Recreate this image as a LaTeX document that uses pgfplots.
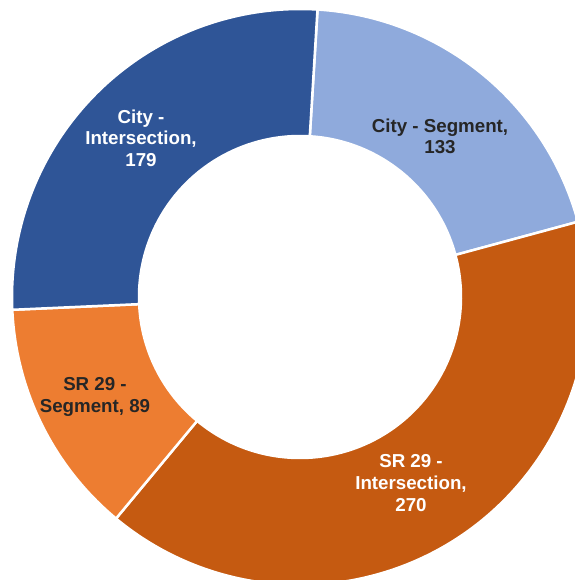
\documentclass[border=0pt]{standalone}
\usepackage{pgfplots}
\pgfplotsset{compat=1.18}
\usepackage{pgfplotstable}
\usepackage{fontspec}
\setmainfont{Liberation Sans}
\definecolor{cityint}{HTML}{2F5597}
\definecolor{cityseg}{HTML}{8FAADC}
\definecolor{srint}{HTML}{C55A11}
\definecolor{srseg}{HTML}{ED7D31}
\definecolor{darktext}{HTML}{262626}
% clockwise from the top
\pgfplotstableread{
name value
CitySegment 133
SRIntersection 270
SRSegment 89
CityIntersection 179
}\donutdata
\begin{document}
\begin{tikzpicture}
\pgfplotstablegetelem{0}{value}\of\donutdata \let\vA\pgfplotsretval
\pgfplotstablegetelem{1}{value}\of\donutdata \let\vB\pgfplotsretval
\pgfplotstablegetelem{2}{value}\of\donutdata \let\vC\pgfplotsretval
\pgfplotstablegetelem{3}{value}\of\donutdata \let\vD\pgfplotsretval
\pgfmathsetmacro\tot{\vA+\vB+\vC+\vD}
\pgfmathsetmacro\aO{86.5}
\pgfmathsetmacro\aI{\aO-360*(\vA/\tot)}
\pgfmathsetmacro\aII{\aI-360*(\vB/\tot)}
\pgfmathsetmacro\aIII{\aII-360*(\vC/\tot)}
\pgfmathsetmacro\aIV{\aIII-360*(\vD/\tot)}
\def\Ro{288bp}\def\Ri{161bp}\def\Rd{127bp}
\begin{axis}[x=1bp,y=1bp,xmin=0,xmax=575,ymin=0,ymax=580,
  hide axis,clip=true,disabledatascaling,scale only axis]
\filldraw[fill=cityseg,draw=white,line width=2.5bp] (axis cs:300,283) ++(\aO:\Ro) arc[start angle=\aO,end angle=\aI,radius=\Ro] -- ++(\aI:-\Rd) arc[start angle=\aI,end angle=\aO,radius=\Ri] -- cycle;
\filldraw[fill=srint,draw=white,line width=2.5bp] (axis cs:300,283) ++(\aI:\Ro) arc[start angle=\aI,end angle=\aII,radius=\Ro] -- ++(\aII:-\Rd) arc[start angle=\aII,end angle=\aI,radius=\Ri] -- cycle;
\filldraw[fill=srseg,draw=white,line width=2.5bp] (axis cs:300,283) ++(\aII:\Ro) arc[start angle=\aII,end angle=\aIII,radius=\Ro] -- ++(\aIII:-\Rd) arc[start angle=\aIII,end angle=\aII,radius=\Ri] -- cycle;
\filldraw[fill=cityint,draw=white,line width=2.5bp] (axis cs:300,283) ++(\aIII:\Ro) arc[start angle=\aIII,end angle=\aIV,radius=\Ro] -- ++(\aIV:-\Rd) arc[start angle=\aIV,end angle=\aIII,radius=\Ri] -- cycle;
\node[align=center,text=white,font=\fontsize{18.8}{21.5}\selectfont\bfseries] at (axis cs:141,442) {City -\\Intersection,\\179};
\node[align=center,text=darktext,font=\fontsize{18.8}{21}\selectfont\bfseries] at (axis cs:440,444) {City - Segment,\\133};
\node[align=center,text=darktext,font=\fontsize{18.8}{22}\selectfont\bfseries] at (axis cs:95,183) {SR 29 -\\Segment, 89};
\node[align=center,text=white,font=\fontsize{18.8}{22}\selectfont\bfseries] at (axis cs:411,97) {SR 29 -\\Intersection,\\270};
\end{axis}
\pgfresetboundingbox
\path[use as bounding box] (current axis.south west) rectangle (current axis.north east);
\end{tikzpicture}
\end{document}
